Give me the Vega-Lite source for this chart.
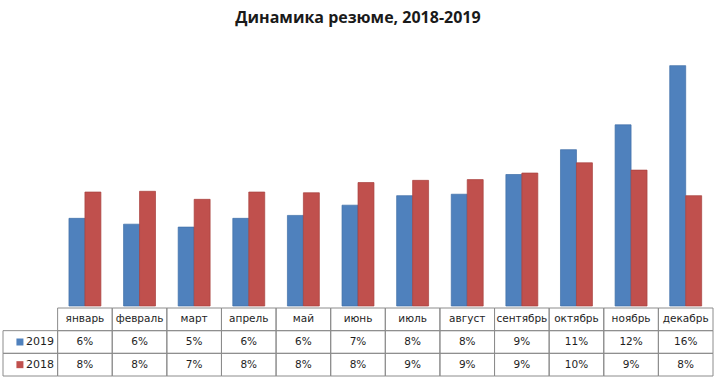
{
  "$schema": "https://vega.github.io/schema/vega-lite/v6.json",
  "padding": {"left": 2, "right": 8, "top": 10, "bottom": 0},
  "title": {"text": "Динамика резюме, 2018-2019", "font": "Open Sans", "fontSize": 16, "fontWeight": "bold", "color": "#1a1a1a", "anchor": "middle", "offset": 17},
  "config": {"view": {"stroke": null}, "concat": {"spacing": 0}},
  "spacing": 0,
  "data": {"values": [
    {"month": "январь", "year": "2019", "value": 0.060},
    {"month": "январь", "year": "2018", "value": 0.078},
    {"month": "февраль", "year": "2019", "value": 0.056},
    {"month": "февраль", "year": "2018", "value": 0.0785},
    {"month": "март", "year": "2019", "value": 0.054},
    {"month": "март", "year": "2018", "value": 0.073},
    {"month": "апрель", "year": "2019", "value": 0.060},
    {"month": "апрель", "year": "2018", "value": 0.078},
    {"month": "май", "year": "2019", "value": 0.062},
    {"month": "май", "year": "2018", "value": 0.0775},
    {"month": "июнь", "year": "2019", "value": 0.069},
    {"month": "июнь", "year": "2018", "value": 0.0845},
    {"month": "июль", "year": "2019", "value": 0.0755},
    {"month": "июль", "year": "2018", "value": 0.086},
    {"month": "август", "year": "2019", "value": 0.0765},
    {"month": "август", "year": "2018", "value": 0.0865},
    {"month": "сентябрь", "year": "2019", "value": 0.090},
    {"month": "сентябрь", "year": "2018", "value": 0.091},
    {"month": "октябрь", "year": "2019", "value": 0.107},
    {"month": "октябрь", "year": "2018", "value": 0.098},
    {"month": "ноябрь", "year": "2019", "value": 0.124},
    {"month": "ноябрь", "year": "2018", "value": 0.093},
    {"month": "декабрь", "year": "2019", "value": 0.1645},
    {"month": "декабрь", "year": "2018", "value": 0.0755}
  ]},
  "vconcat": [
    {
      "width": 710,
      "height": 263,
      "mark": {"type": "bar", "strokeWidth": 0.7},
      "encoding": {
        "x": {"field": "month", "type": "nominal", "scale": {"domain": ["_", "январь", "февраль", "март", "апрель", "май", "июнь", "июль", "август", "сентябрь", "октябрь", "ноябрь", "декабрь"], "paddingInner": 0, "paddingOuter": 0}, "axis": null},
        "xOffset": {"field": "year", "type": "nominal", "scale": {"domain": ["2019", "2018"], "paddingInner": 0, "paddingOuter": 0.71}},
        "y": {"field": "value", "type": "quantitative", "scale": {"domain": [0, 0.18]}, "axis": null},
        "color": {"field": "year", "type": "nominal", "scale": {"domain": ["2019", "2018"], "range": ["#4F81BD", "#C0504D"]}, "legend": null},
        "stroke": {"field": "year", "type": "nominal", "scale": {"domain": ["2019", "2018"], "range": ["#3F6EA8", "#A8413E"]}, "legend": null}
      }
    },
    {
      "width": 710,
      "height": 68,
      "layer": [
        {
          "mark": {"type": "rect", "fill": "transparent", "stroke": "#8C8C8C", "strokeWidth": 1},
          "encoding": {
            "x": {"field": "month", "type": "nominal", "scale": {"domain": ["_", "январь", "февраль", "март", "апрель", "май", "июнь", "июль", "август", "сентябрь", "октябрь", "ноябрь", "декабрь"], "paddingInner": 0, "paddingOuter": 0}, "axis": null},
            "y": {"field": "year", "type": "nominal", "scale": {"domain": ["hdr", "2019", "2018"], "paddingInner": 0, "paddingOuter": 0}, "axis": null}
          }
        },
        {
          "transform": [{"filter": "datum.year == '2019'"}],
          "mark": {"type": "rect", "fill": "transparent", "stroke": "#8C8C8C", "strokeWidth": 1},
          "encoding": {
            "x": {"field": "month", "type": "nominal"},
            "y": {"datum": "hdr", "type": "nominal"}
          }
        },
        {
          "transform": [{"filter": "datum.month == 'январь'"}],
          "mark": {"type": "rect", "fill": "transparent", "stroke": "#8C8C8C", "strokeWidth": 1},
          "encoding": {
            "x": {"datum": "_", "type": "nominal"},
            "y": {"field": "year", "type": "nominal"}
          }
        },
        {
          "mark": {"type": "text", "font": "DejaVu Sans", "fontSize": 10.5, "color": "#1e1e1e"},
          "encoding": {
            "x": {"field": "month", "type": "nominal"},
            "y": {"field": "year", "type": "nominal"},
            "text": {"field": "value", "type": "quantitative", "format": ".0%"}
          }
        },
        {
          "transform": [{"filter": "datum.year == '2019'"}],
          "mark": {"type": "text", "font": "DejaVu Sans", "fontSize": 10.5, "color": "#1e1e1e"},
          "encoding": {
            "x": {"field": "month", "type": "nominal"},
            "y": {"datum": "hdr", "type": "nominal"},
            "text": {"field": "month", "type": "nominal"}
          }
        },
        {
          "transform": [{"filter": "datum.month == 'январь'"}],
          "mark": {"type": "point", "shape": "square", "filled": true, "size": 49, "opacity": 1},
          "encoding": {
            "x": {"datum": "_", "type": "nominal", "bandPosition": 0.31},
            "y": {"field": "year", "type": "nominal"},
            "color": {"field": "year", "type": "nominal", "scale": {"domain": ["2019", "2018"], "range": ["#4F81BD", "#C0504D"]}, "legend": null}
          }
        },
        {
          "transform": [{"filter": "datum.month == 'январь'"}],
          "mark": {"type": "text", "font": "DejaVu Sans", "fontSize": 11, "color": "#1e1e1e", "align": "left"},
          "encoding": {
            "x": {"datum": "_", "type": "nominal", "bandPosition": 0.42},
            "y": {"field": "year", "type": "nominal"},
            "text": {"field": "year", "type": "nominal"}
          }
        }
      ]
    }
  ]
}
